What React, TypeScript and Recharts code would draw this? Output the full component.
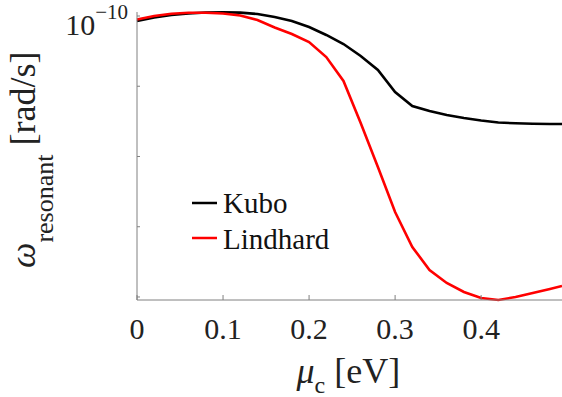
import React from "react";
import { LineChart, Line, XAxis, YAxis, Legend } from "recharts";

// chemical potential samples [eV]
const muValues = [0, 0.02, 0.04, 0.06, 0.08, 0.1, 0.12, 0.14, 0.16, 0.18, 0.2, 0.22, 0.24, 0.26, 0.28, 0.3, 0.32, 0.34, 0.36, 0.38, 0.4, 0.42, 0.44, 0.46, 0.48, 0.494];
// resonant frequency (arbitrary linear units)
const kuboValues = [4.929, 4.979, 5.014, 5.036, 5.05, 5.054, 5.048, 5.028, 4.986, 4.929, 4.843, 4.73, 4.601, 4.431, 4.231, 3.918, 3.719, 3.648, 3.591, 3.548, 3.512, 3.484, 3.473, 3.467, 3.463, 3.463];
const lindhardValues = [4.95, 5.0, 5.033, 5.046, 5.047, 5.036, 5.007, 4.943, 4.836, 4.744, 4.63, 4.416, 4.075, 3.477, 2.851, 2.21, 1.712, 1.384, 1.199, 1.071, 0.986, 0.957, 1.0, 1.057, 1.114, 1.157];

const xTicks = [0, 0.1, 0.2, 0.3, 0.4];
const xTickLabels = ["0", "0.1", "0.2", "0.3", "0.4"];
const yTicks = [1, 2, 3, 4, 5];
const yTopLabelBase = "10";
const yTopLabelExp = "\u221210";
const seriesNames = ["Kubo", "Lindhard"];

const data = muValues.map((mu, i) => ({ mu, kubo: kuboValues[i], lindhard: lindhardValues[i] }));

const FONT = "Liberation Serif, DejaVu Serif, serif";
const AXIS = "#808080";
const TXT = "#222";

const XTick = (props: any) => {
  const { x, y, payload } = props;
  const idx = xTicks.indexOf(payload.value);
  return (
    <g>
      <line x1={x} x2={x} y1={y} y2={y - 5} stroke={AXIS} strokeWidth={1} />
      <text x={x} y={y + 39} textAnchor="middle" style={{ fontFamily: FONT, fontSize: 30 }} fill={TXT}>
        {idx >= 0 ? xTickLabels[idx] : String(payload.value)}
      </text>
    </g>
  );
};

const TopTick = (props: any) => {
  const { x, y } = props;
  return <line x1={x} x2={x} y1={y} y2={y + 4} stroke={AXIS} strokeWidth={1} />;
};

const YTick = (props: any) => {
  const { x, y, payload } = props;
  return (
    <g>
      <line x1={x} x2={x + 3} y1={y} y2={y} stroke={AXIS} strokeWidth={1} />
      {payload.value === 5 ? (
        <text x={x - 9} y={y + 19} textAnchor="end" style={{ fontFamily: FONT, fontSize: 30 }} fill={TXT}>
          <tspan>{yTopLabelBase}</tspan>
          <tspan style={{ fontSize: 21 }} dy={-16}>{yTopLabelExp}</tspan>
        </text>
      ) : null}
    </g>
  );
};

const XLabel = (props: any) => {
  const vb = props.viewBox || {};
  const cx = vb.x + vb.width / 2;
  return (
    <text x={cx - 53} y={vb.y + 83} style={{ fontFamily: FONT, fontSize: 36 }} fill={TXT}>
      <tspan style={{ fontStyle: "italic" }}>μ</tspan>
      <tspan style={{ fontSize: 24 }} dy={10}>c</tspan>
      <tspan dy={-10}> [eV]</tspan>
    </text>
  );
};

const YLabel = () => {
  const x = 35;
  const y = 268;
  return (
    <text x={x} y={y} transform={`rotate(-90, ${x}, ${y})`} style={{ fontFamily: FONT, fontSize: 36 }} fill={TXT}>
      <tspan style={{ fontStyle: "italic" }}>ω</tspan>
      <tspan style={{ fontSize: 26 }} dy={18}>resonant</tspan>
      <tspan dy={-18}> [rad/s]</tspan>
    </text>
  );
};

const LegendContent = (props: any) => {
  const payload = props.payload || [];
  return (
    <svg width={200} height={80} style={{ display: "block" }}>
      {payload.map((p: any, i: number) => (
        <g key={i}>
          <line x1={7} x2={32} y1={23 + i * 35} y2={23 + i * 35} stroke={p.color} strokeWidth={2.5} />
          <text x={38} y={33 + i * 36} style={{ fontFamily: FONT, fontSize: 29 }} fill="#111">
            {p.value}
          </text>
        </g>
      ))}
    </svg>
  );
};

export default function App() {
  return (
    <div style={{ position: "absolute", left: 0, top: 0, width: 562, height: 397, background: "#fff" }}>
      <LineChart width={562} height={397} data={data} margin={{ top: 12, right: 0, bottom: 57, left: 77 }}>
        <XAxis
          dataKey="mu"
          type="number"
          domain={[0, 0.494]}
          ticks={xTicks}
          interval={0}
          tickSize={0}
          tickMargin={0}
          tickLine={false}
          axisLine={{ stroke: AXIS, strokeWidth: 1 }}
          tick={XTick}
          height={40}
          label={XLabel}
        />
        <XAxis
          xAxisId="top"
          orientation="top"
          dataKey="mu"
          type="number"
          domain={[0, 0.494]}
          ticks={xTicks}
          interval={0}
          tickSize={0}
          tickMargin={0}
          tickLine={false}
          axisLine={{ stroke: AXIS, strokeWidth: 1 }}
          tick={TopTick}
          height={0}
        />
        <YAxis
          type="number"
          domain={[0.957, 5.057]}
          ticks={yTicks}
          interval={0}
          width={60}
          tickSize={0}
          tickMargin={0}
          tickLine={false}
          axisLine={{ stroke: AXIS, strokeWidth: 1 }}
          tick={YTick}
          label={YLabel}
        />
        <Legend
          layout="vertical"
          align="center"
          verticalAlign="middle"
          content={LegendContent}
          wrapperStyle={{ left: 185, top: 180, width: 200, height: 80 }}
        />
        <Line
          type="linear"
          dataKey="kubo"
          name={seriesNames[0]}
          stroke="#000000"
          strokeWidth={2.6}
          dot={false}
          isAnimationActive={false}
        />
        <Line
          type="linear"
          dataKey="lindhard"
          name={seriesNames[1]}
          stroke="#ff0000"
          strokeWidth={2.6}
          dot={false}
          isAnimationActive={false}
        />
      </LineChart>
    </div>
  );
}
